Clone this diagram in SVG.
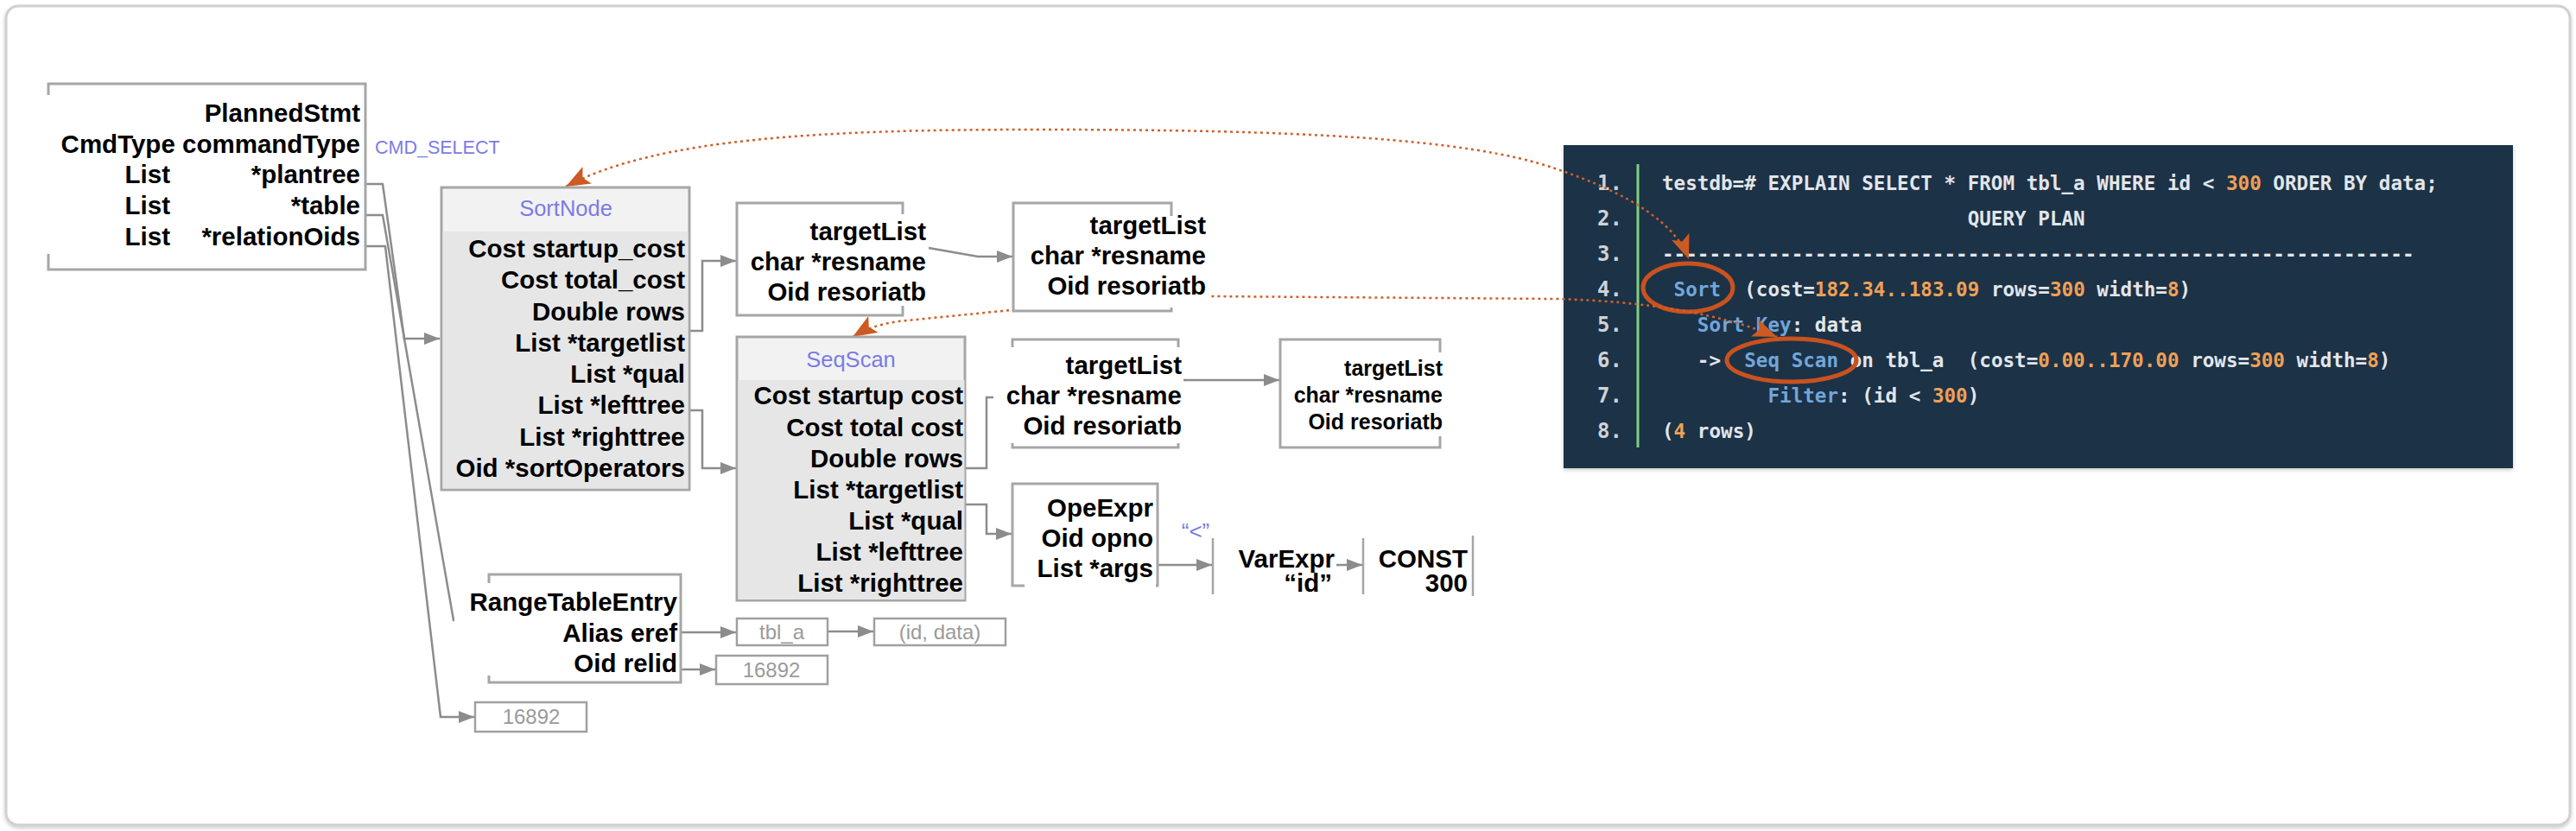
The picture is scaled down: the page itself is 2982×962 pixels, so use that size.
<svg xmlns="http://www.w3.org/2000/svg" width="2982" height="962" viewBox="0 0 2982 962">
<defs>
<marker id="ag" markerUnits="userSpaceOnUse" markerWidth="20" markerHeight="14" refX="18" refY="7" orient="auto"><path d="M0,0 L18,7 L0,14 Z" fill="#8c8c8c"/></marker>
<marker id="ao" markerUnits="userSpaceOnUse" markerWidth="30" markerHeight="22" refX="28" refY="11" orient="auto-start-reverse"><path d="M0,0 L28,11 L0,22 L6,11 Z" fill="#cc5a22"/></marker>
<filter id="sh" x="-5%" y="-5%" width="110%" height="110%"><feDropShadow dx="0" dy="2" stdDeviation="2" flood-color="#000" flood-opacity="0.22"/></filter>
</defs>
<style>
.b{font-family:"Liberation Sans",Arial,sans-serif;font-weight:bold;font-size:29.5px;fill:#000;text-anchor:end}
.sm{font-size:25px}
.box{fill:#fff;stroke:#a6a6a6;stroke-width:3}
.bg{fill:#fff}
.title{font-family:"Liberation Sans",Arial,sans-serif;font-size:25.5px;fill:#7b7be6;text-anchor:middle}
.val{font-family:"Liberation Sans",Arial,sans-serif;font-size:24px;fill:#9a9a9a;text-anchor:middle}
.vbox{fill:#fff;stroke:#a0a0a0;stroke-width:2.5}
.c{fill:none;stroke:#8c8c8c;stroke-width:2.5}
.d{fill:none;stroke:#d0602a;stroke-width:2.5;stroke-dasharray:3 4}
.code{font-family:"DejaVu Sans Mono","Liberation Mono",monospace;font-weight:bold;font-size:22.6px;fill:#e2e6ea}
.ln{font-family:"DejaVu Sans Mono","Liberation Mono",monospace;font-weight:bold;font-size:24px;fill:#cfd3d7;text-anchor:end}
.o{fill:#f0a055}
.k{fill:#72a6da}
.ell{fill:none;stroke:#c9521e;stroke-width:5}
</style>
<rect x="0" y="0" width="2982" height="962" fill="#fff"/>
<rect x="7" y="7" width="2968" height="948" rx="14" fill="#fff" stroke="#d0d0d0" stroke-width="3" filter="url(#sh)"/>

<g id="code_panel">
<rect x="1810" y="168" width="1099" height="374" fill="#1c3246" filter="url(#sh)"/>
<line x1="1896" y1="190" x2="1896" y2="518" stroke="#7ed07e" stroke-width="3"/>
<text class="ln" x="1878" y="220">1.</text>
<text class="ln" x="1878" y="261">2.</text>
<text class="ln" x="1878" y="302">3.</text>
<text class="ln" x="1878" y="343">4.</text>
<text class="ln" x="1878" y="384">5.</text>
<text class="ln" x="1878" y="425">6.</text>
<text class="ln" x="1878" y="466">7.</text>
<text class="ln" x="1878" y="507">8.</text>
<text class="code" x="1924" y="220" xml:space="preserve">testdb=# EXPLAIN SELECT * FROM tbl_a WHERE id &lt; <tspan class="o">300</tspan> ORDER BY data;</text>
<text class="code" x="1924" y="261" xml:space="preserve">                          QUERY PLAN</text>
<text class="code" x="1924" y="302" xml:space="preserve">----------------------------------------------------------------</text>
<text class="code" x="1924" y="343" xml:space="preserve"> <tspan class="k">Sort</tspan>  (cost=<tspan class="o">182.34..183.09</tspan> rows=<tspan class="o">300</tspan> width=<tspan class="o">8</tspan>)</text>
<text class="code" x="1924" y="384" xml:space="preserve">   <tspan class="k">Sort Key</tspan>: data</text>
<text class="code" x="1924" y="425" xml:space="preserve">   -&gt;  <tspan class="k">Seq Scan</tspan> on tbl_a  (cost=<tspan class="o">0.00..170.00</tspan> rows=<tspan class="o">300</tspan> width=<tspan class="o">8</tspan>)</text>
<text class="code" x="1924" y="466" xml:space="preserve">         <tspan class="k">Filter</tspan>: (id &lt; <tspan class="o">300</tspan>)</text>
<text class="code" x="1924" y="507" xml:space="preserve">(<tspan class="o">4</tspan> rows)</text>
<ellipse class="ell" cx="1954" cy="333" rx="52" ry="28"/>
<ellipse class="ell" cx="2074" cy="417" rx="75" ry="25"/>
</g>

<g id="connectors">
<path class="c" d="M423,213 H443 L468,392 H509" marker-end="url(#ag)"/>
<path class="c" d="M423,249 H443 L525,718 H564" marker-end="url(#ag)"/>
<path class="c" d="M423,285 H446 L510,830 H549" marker-end="url(#ag)"/>
<path class="c" d="M798,383 H813 V302 H852" marker-end="url(#ag)"/>
<path class="c" d="M798,475 H813 V542 H852" marker-end="url(#ag)"/>
<path class="c" d="M1075,287 L1132,297 H1172" marker-end="url(#ag)"/>
<path class="c" d="M1117,542 H1142 V460 H1170" marker-end="url(#ag)"/>
<path class="c" d="M1117,584 H1142 V618 H1171" marker-end="url(#ag)"/>
<path class="c" d="M1370,440 H1481" marker-end="url(#ag)"/>
<path class="c" d="M1340,654 H1403" marker-end="url(#ag)"/>
<path class="c" d="M1547,654 H1577" marker-end="url(#ag)"/>
<path class="c" d="M788,732 H852" marker-end="url(#ag)"/>
<path class="c" d="M958,731 H1011" marker-end="url(#ag)"/>
<path class="c" d="M788,775 H828" marker-end="url(#ag)"/>
<path class="d" d="M655,216 C760,160 950,150 1200,150 C1500,150 1700,160 1800,195 C1890,225 1940,260 1955,300" marker-start="url(#ao)" marker-end="url(#ao)"/>
<path class="d" d="M987,390 Q1010,376 1040,372 L1240,352 L1400,343 L1800,346 Q1960,350 2057,390" marker-start="url(#ao)" marker-end="url(#ao)"/>
</g>

<g id="plannedstmt">
<rect class="box" x="56" y="97" width="367" height="215"/>
<rect class="bg" x="50" y="110" width="368" height="184"/>
<text class="b" x="417" y="141">PlannedStmt</text>
<text class="b" x="417" y="177">CmdType commandType</text>
<text class="b" x="197" y="212">List</text>
<text class="b" x="417" y="212">*plantree</text>
<text class="b" x="197" y="248">List</text>
<text class="b" x="417" y="248">*table</text>
<text class="b" x="197" y="284">List</text>
<text class="b" x="417" y="284">*relationOids</text>
</g>
<g id="cmd_select">
<text x="434" y="178" font-family="Liberation Sans, Arial, sans-serif" font-size="21.5" fill="#7b7be6">CMD_SELECT</text>
</g>

<g id="sortnode">
<rect x="511" y="217" width="287" height="350" fill="#f2f2f2" stroke="#a6a6a6" stroke-width="3"/>
<rect x="512.5" y="268" width="284" height="297.5" fill="#e6e6e6"/>
<text class="title" x="655" y="250">SortNode</text>
<text class="b" x="793" y="298">Cost startup_cost</text>
<text class="b" x="793" y="334">Cost total_cost</text>
<text class="b" x="793" y="371">Double rows</text>
<text class="b" x="793" y="407">List *targetlist</text>
<text class="b" x="793" y="443">List *qual</text>
<text class="b" x="793" y="479">List *lefttree</text>
<text class="b" x="793" y="516">List *righttree</text>
<text class="b" x="793" y="552">Oid *sortOperators</text>
</g>

<g id="seqscan">
<rect x="853" y="390" width="264" height="305" fill="#f2f2f2" stroke="#a6a6a6" stroke-width="3"/>
<rect x="854.5" y="440" width="262" height="254" fill="#e6e6e6"/>
<text class="title" x="985" y="425">SeqScan</text>
<text class="b" x="1115" y="468">Cost startup cost</text>
<text class="b" x="1115" y="505">Cost total cost</text>
<text class="b" x="1115" y="541">Double rows</text>
<text class="b" x="1115" y="577">List *targetlist</text>
<text class="b" x="1115" y="613">List *qual</text>
<text class="b" x="1115" y="649">List *lefttree</text>
<text class="b" x="1115" y="685">List *righttree</text>
</g>

<g id="targetlist1">
<rect class="box" x="853" y="235" width="192" height="130"/>
<rect class="bg" x="867" y="248" width="206" height="106"/>
<text class="b" x="1072" y="278">targetList</text>
<text class="b" x="1072" y="313">char *resname</text>
<text class="b" x="1072" y="348">Oid resoriatb</text>
</g>

<g id="targetlist2">
<rect class="box" x="1173" y="235" width="183" height="125"/>
<rect class="bg" x="1180" y="250" width="220" height="106"/>
<text class="b" x="1396" y="271">targetList</text>
<text class="b" x="1396" y="306">char *resname</text>
<text class="b" x="1396" y="341">Oid resoriatb</text>
</g>

<g id="targetlist3">
<rect class="box" x="1172" y="393" width="192" height="125"/>
<rect class="bg" x="1150" y="402" width="220" height="111"/>
<text class="b" x="1368" y="433">targetList</text>
<text class="b" x="1368" y="468">char *resname</text>
<text class="b" x="1368" y="503">Oid resoriatb</text>
</g>

<g id="targetlist4">
<rect class="box" x="1482" y="393" width="185" height="125"/>
<rect class="bg" x="1490" y="408" width="182" height="97"/>
<text class="b sm" x="1670" y="435">targetList</text>
<text class="b sm" x="1670" y="466">char *resname</text>
<text class="b sm" x="1670" y="497">Oid resoriatb</text>
</g>

<g id="opexpr">
<rect class="box" x="1172" y="560" width="168" height="118"/>
<rect class="bg" x="1186" y="572" width="152" height="108"/>
<text class="b" x="1335" y="598">OpeExpr</text>
<text class="b" x="1335" y="633">Oid opno</text>
<text class="b" x="1335" y="668">List *args</text>
</g>
<g id="op_label">
<text x="1384" y="624" font-family="Liberation Sans, Arial, sans-serif" font-size="26" fill="#7b7be6" text-anchor="middle">“&lt;”</text>
</g>

<g id="varexpr">
<line x1="1404" y1="623" x2="1404" y2="688" stroke="#a6a6a6" stroke-width="2.5"/>
<text class="b" x="1545" y="657">VarExpr</text>
<text class="b" x="1542" y="685">“id”</text>
</g>

<g id="const">
<line x1="1578" y1="623" x2="1578" y2="688" stroke="#a6a6a6" stroke-width="2.5"/>
<line x1="1705" y1="620" x2="1705" y2="690" stroke="#a6a6a6" stroke-width="2.5"/>
<text class="b" x="1699" y="657">CONST</text>
<text class="b" x="1699" y="685">300</text>
</g>

<g id="rangetableentry">
<rect class="box" x="566" y="665" width="222" height="125"/>
<rect class="bg" x="526" y="675" width="260" height="107"/>
<text class="b" x="784" y="707">RangeTableEntry</text>
<text class="b" x="784" y="743">Alias eref</text>
<text class="b" x="784" y="778">Oid relid</text>
</g>

<g id="tbl_a">
<rect class="vbox" x="853" y="716" width="105" height="31"/>
<text class="val" x="905" y="740" font-size="22">tbl_a</text>
</g>
<g id="id_data">
<rect class="vbox" x="1012" y="716" width="152" height="31"/>
<text class="val" x="1088" y="740" font-size="22">(id, data)</text>
</g>
<g id="relid_value">
<rect class="vbox" x="829" y="759" width="129" height="33"/>
<text class="val" x="893" y="784">16892</text>
</g>
<g id="relationoids_value">
<rect class="vbox" x="550" y="813" width="129" height="34"/>
<text class="val" x="615" y="838">16892</text>
</g>
</svg>
